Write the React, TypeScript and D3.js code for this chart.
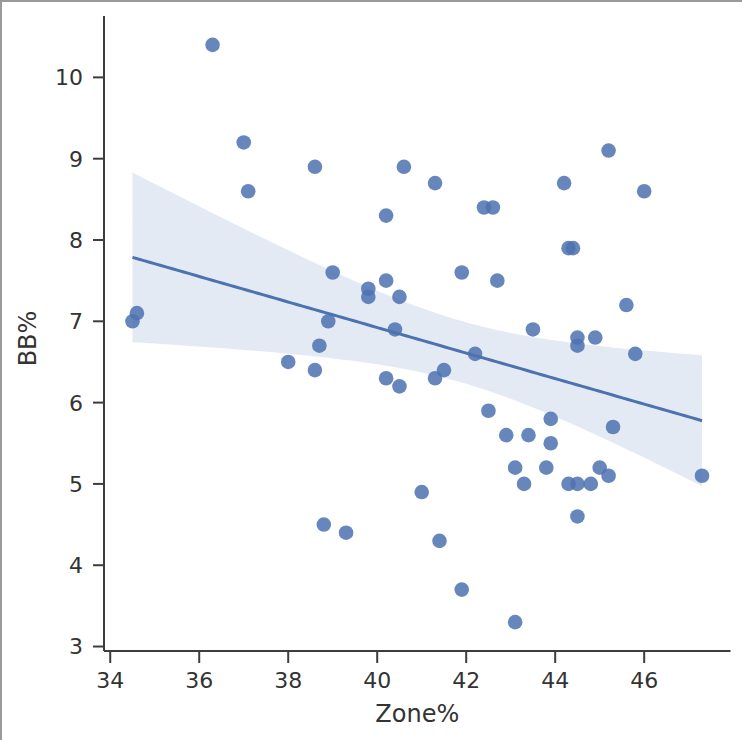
import React from "react";
import * as d3 from "d3";

const zonePct: number[] = [
  36.3, 37.0, 37.1, 38.6, 34.5, 34.6, 38.0, 38.6, 38.7, 38.9, 39.0, 38.8, 39.3,
  39.8, 39.8, 40.2, 40.2, 40.4, 40.5, 40.2, 40.5, 40.6, 41.3, 41.9, 41.3, 41.5,
  42.2, 42.4, 42.6, 42.7, 43.5, 44.2, 44.3, 44.4, 45.2, 46.0, 45.6, 44.5, 44.5,
  44.9, 45.8, 42.5, 42.9, 43.4, 43.9, 43.9, 43.1, 43.8, 43.3, 44.3, 44.5, 44.8,
  45.0, 45.2, 45.3, 47.3, 44.5, 41.0, 41.4, 41.9, 43.1,
];
const bbPct: number[] = [
  10.4, 9.2, 8.6, 8.9, 7.0, 7.1, 6.5, 6.4, 6.7, 7.0, 7.6, 4.5, 4.4,
  7.4, 7.3, 8.3, 7.5, 6.9, 7.3, 6.3, 6.2, 8.9, 8.7, 7.6, 6.3, 6.4,
  6.6, 8.4, 8.4, 7.5, 6.9, 8.7, 7.9, 7.9, 9.1, 8.6, 7.2, 6.8, 6.7,
  6.8, 6.6, 5.9, 5.6, 5.6, 5.8, 5.5, 5.2, 5.2, 5.0, 5.0, 5.0, 5.0,
  5.2, 5.1, 5.7, 5.1, 4.6, 4.9, 4.3, 3.7, 3.3,
];
const xTicks: number[] = [34, 36, 38, 40, 42, 44, 46];
const yTicks: number[] = [3, 4, 5, 6, 7, 8, 9, 10];
const xLabel = "Zone%";
const yLabel = "BB%";

const W = 742;
const H = 740;
const left = 104;
const right = 730.5;
const top = 16;
const bottom = 651;
const BLUE = "#4c72b0";
const AXIS = "#3d3d3d";
const FONT = "DejaVu Sans, sans-serif";

function padded(vals: number[]): [number, number] {
  const [a, b] = d3.extent(vals) as [number, number];
  const p = (b - a) * 0.05;
  return [a - p, b + p];
}

export default function App() {
  const x = d3.scaleLinear().domain(padded(zonePct)).range([left, right]);
  const y = d3.scaleLinear().domain(padded(bbPct)).range([bottom, top]);

  const n = zonePct.length;
  const mx = d3.mean(zonePct) as number;
  const my = d3.mean(bbPct) as number;
  let sxx = 0;
  let sxy = 0;
  for (let i = 0; i < n; i++) {
    sxx += (zonePct[i] - mx) ** 2;
    sxy += (zonePct[i] - mx) * (bbPct[i] - my);
  }
  const slope = sxy / sxx;
  const icpt = my - slope * mx;
  let sse = 0;
  for (let i = 0; i < n; i++) sse += (bbPct[i] - (icpt + slope * zonePct[i])) ** 2;
  const s = Math.sqrt(sse / (n - 2));
  const t = 2.0;
  const [x0, x1] = d3.extent(zonePct) as [number, number];
  const grid = d3.range(0, 101).map((k) => x0 + ((x1 - x0) * k) / 100);
  const band = grid.map((g) => {
    const fit = icpt + slope * g;
    const se = s * Math.sqrt(1 / n + (g - mx) ** 2 / sxx);
    return { g, fit, lo: fit - t * se, hi: fit + t * se };
  });
  const area = d3
    .area<{ g: number; lo: number; hi: number }>()
    .x((d) => x(d.g))
    .y0((d) => y(d.lo))
    .y1((d) => y(d.hi));
  const line = d3
    .line<{ g: number; fit: number }>()
    .x((d) => x(d.g))
    .y((d) => y(d.fit));

  return (
    <div style={{ position: "absolute", left: 0, top: 0 }}>
      <svg width={W} height={H} style={{ display: "block", background: "#fff" }}>
        <rect x={0} y={0} width={W} height={H} fill="#fff" />
        <line x1={1} y1={0} x2={1} y2={H} stroke="#9a9a9a" strokeWidth={2} />
        <line x1={0} y1={1} x2={W} y2={1} stroke="#9a9a9a" strokeWidth={2} />

        <path d={area(band) || ""} fill={BLUE} fillOpacity={0.15} />

        {zonePct.map((v, i) => (
          <circle key={i} cx={x(v)} cy={y(bbPct[i])} r={7.3} fill={BLUE} fillOpacity={0.85} />
        ))}

        <path d={line(band) || ""} fill="none" stroke={BLUE} strokeWidth={3} />

        {/* axes */}
        <line x1={left} y1={top} x2={left} y2={bottom} stroke={AXIS} strokeWidth={2} />
        <line x1={left} y1={bottom} x2={right} y2={bottom} stroke={AXIS} strokeWidth={2} />

        {yTicks.map((v) => (
          <g key={"y" + v}>
            <line x1={left - 11} x2={left} y1={y(v)} y2={y(v)} stroke={AXIS} strokeWidth={2} />
            <text
              x={left - 21}
              y={y(v)}
              dy="0.36em"
              textAnchor="end"
              fontFamily={FONT}
              fontSize={22}
              fill="#333"
            >
              {v}
            </text>
          </g>
        ))}
        {xTicks.map((v) => (
          <g key={"x" + v}>
            <line x1={x(v)} x2={x(v)} y1={bottom} y2={bottom + 12} stroke={AXIS} strokeWidth={2} />
            <text
              x={x(v)}
              y={688}
              textAnchor="middle"
              fontFamily={FONT}
              fontSize={22}
              fill="#333"
            >
              {v}
            </text>
          </g>
        ))}

        <text
          x={(left + right) / 2}
          y={722}
          textAnchor="middle"
          fontFamily={FONT}
          fontSize={24}
          fill="#333"
        >
          {xLabel}
        </text>
        <text
          transform={`translate(36, ${(top + bottom) / 2 + 5}) rotate(-90)`}
          textAnchor="middle"
          fontFamily={FONT}
          fontSize={24}
          fill="#333"
        >
          {yLabel}
        </text>
      </svg>
    </div>
  );
}
